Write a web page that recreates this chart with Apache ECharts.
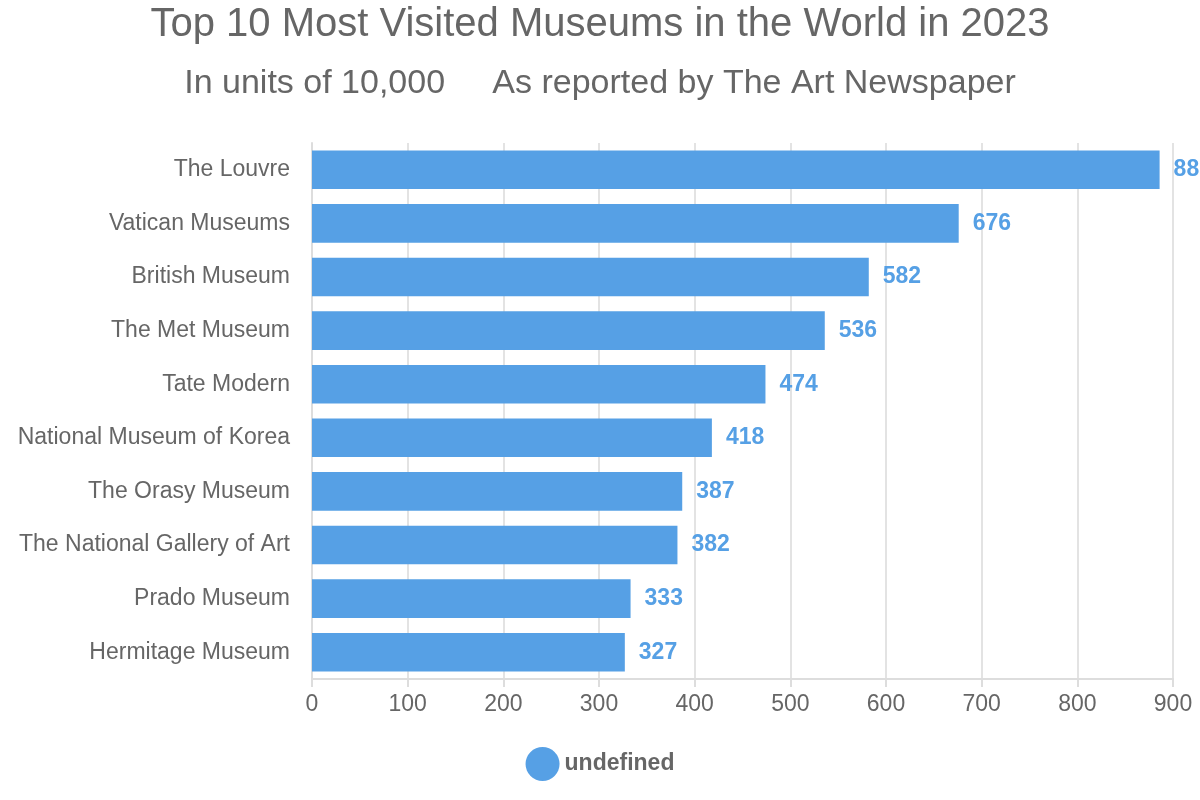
<!DOCTYPE html>
<html>
<head>
<meta charset="utf-8">
<script src="https://cdn.jsdelivr.net/npm/echarts@6/dist/echarts.min.js"></script>
<style>html,body{margin:0;padding:0;background:#fff}#main{width:1200px;height:800px}</style>
</head>
<body>
<div id="main"></div>
<script>
var museums = ['The Louvre', 'Vatican Museums', 'British Museum', 'The Met Museum', 'Tate Modern',
    'National Museum of Korea', 'The Orasy Museum', 'The National Gallery of Art', 'Prado Museum', 'Hermitage Museum'];
var visitors = [886, 676, 582, 536, 474, 418, 387, 382, 333, 327];

var chart = echarts.init(document.getElementById('main'));
var option = {
    title: {
        text: 'Top 10 Most Visited Museums in the World in 2023',
        subtext: 'In units of 10,000     As reported by The Art Newspaper',
        left: 'center',
        top: 0,
        itemGap: 22,
        textStyle: {color: '#666', fontSize: 40, fontWeight: 'normal', fontFamily: 'Liberation Sans'},
        subtextStyle: {color: '#666', fontSize: 34, fontFamily: 'Liberation Sans'}
    },
    legend: {
        bottom: 14,
        left: 'center',
        icon: 'circle',
        itemWidth: 34,
        itemHeight: 34,
        textStyle: {color: '#666', fontSize: 23, fontWeight: 'bold', fontFamily: 'Liberation Sans'},
        data: ['undefined']
    },
    grid: {left: 312, right: 27, top: 143, bottom: 121},
    xAxis: {
        type: 'value',
        min: 0,
        max: 900,
        interval: 100,
        axisLine: {show: true, lineStyle: {color: '#ddd', width: 2}},
        axisTick: {show: true, length: 8, lineStyle: {color: '#ddd', width: 2}},
        splitLine: {lineStyle: {color: '#e3e3e3', width: 2}},
        axisLabel: {color: '#666', fontSize: 23, margin: 14, fontFamily: 'Liberation Sans'}
    },
    yAxis: {
        type: 'category',
        inverse: true,
        data: museums,
        axisLine: {show: true, lineStyle: {color: '#ddd', width: 2}},
        axisTick: {show: false},
        axisLabel: {color: '#666', fontSize: 23, margin: 22, fontFamily: 'Liberation Sans'}
    },
    series: [{
        name: 'undefined',
        type: 'bar',
        data: visitors,
        barCategoryGap: '28%',
        itemStyle: {color: '#56a0e5'},
        label: {
            show: true,
            position: 'right',
            distance: 14,
            color: '#56a0e5',
            fontSize: 23,
            fontWeight: 'bold',
            fontFamily: 'Liberation Sans'
        }
    }],
    animation: false
};
chart.setOption(option);
</script>
</body>
</html>
